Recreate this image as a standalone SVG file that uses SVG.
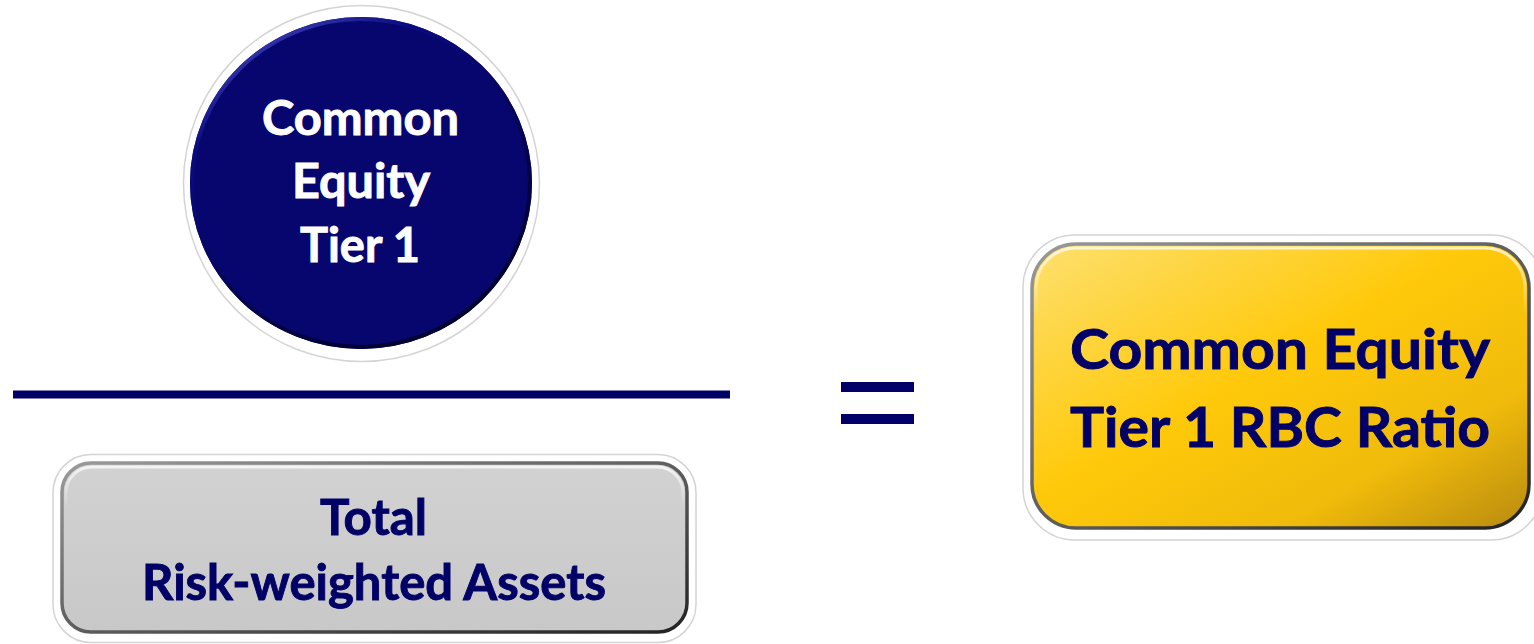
<svg xmlns="http://www.w3.org/2000/svg" width="1534" height="644" viewBox="0 0 1534 644">
  <style>
    .lbl { font-family: Lato, "Open Sans", "Liberation Sans", sans-serif; font-weight: 700; text-anchor: middle; stroke-width: 0.9; }
    .navy { fill: #000066; stroke: #000066; }
    .white { fill: #ffffff; stroke: #ffffff; }
    .rim { fill: #ffffff; stroke: #d4d4d4; stroke-width: 1.5; }
    .edge { fill: none; stroke: url(#edgeGrad); stroke-width: 3.5; }
    .hl { fill: none; stroke: url(#hlGrad); stroke-width: 3; }
    .bar { fill: #000066; }
  </style>
  <defs>
    <linearGradient id="edgeGrad" x1="0" y1="0" x2="1" y2="1">
      <stop offset="0" stop-color="#9a9a9a"/>
      <stop offset="0.5" stop-color="#5e5e5e"/>
      <stop offset="1" stop-color="#222222"/>
    </linearGradient>
    <linearGradient id="hlGrad" x1="0" y1="0" x2="0" y2="1">
      <stop offset="0" stop-color="#ffffff" stop-opacity="0.75"/>
      <stop offset="0.25" stop-color="#ffffff" stop-opacity="0"/>
      <stop offset="1" stop-color="#ffffff" stop-opacity="0"/>
    </linearGradient>
    <linearGradient id="yellowGrad" x1="0" y1="0" x2="1" y2="1">
      <stop offset="0" stop-color="#fde070"/>
      <stop offset="0.45" stop-color="#ffc90a"/>
      <stop offset="0.75" stop-color="#f0bb0a"/>
      <stop offset="1" stop-color="#b88a10"/>
    </linearGradient>
    <linearGradient id="greyGrad" x1="0" y1="0" x2="0" y2="1">
      <stop offset="0" stop-color="#d2d2d2"/>
      <stop offset="1" stop-color="#c8c8c8"/>
    </linearGradient>
    <linearGradient id="circEdge" x1="0" y1="0" x2="0.6" y2="1">
      <stop offset="0" stop-color="#5a5ad0"/>
      <stop offset="0.3" stop-color="#0a0a80"/>
      <stop offset="1" stop-color="#000030"/>
    </linearGradient>
  </defs>

  <g id="cet1">
    <ellipse class="rim" cx="361.5" cy="183.5" rx="178" ry="178"/>
    <ellipse cx="361" cy="183" rx="171" ry="166" fill="#06066e"/>
    <ellipse cx="361" cy="183" rx="169" ry="164" fill="none" stroke="url(#circEdge)" stroke-width="4"/>
    <text class="lbl white" x="360.5" y="135" font-size="47" textLength="197" lengthAdjust="spacingAndGlyphs">Common</text>
    <text class="lbl white" x="361" y="198" font-size="47" textLength="138" lengthAdjust="spacingAndGlyphs">Equity</text>
    <text class="lbl white" x="360" y="262" font-size="47" textLength="120" lengthAdjust="spacingAndGlyphs">Tier 1</text>
  </g>

  <g id="connectors">
    <rect id="fraction-line" class="bar" x="13" y="390.5" width="717" height="8"/>
    <rect id="equals-top" class="bar" x="841" y="382" width="73" height="10"/>
    <rect id="equals-bottom" class="bar" x="841" y="414" width="73" height="10"/>
  </g>

  <g id="rwa">
    <rect class="rim" x="53" y="454.5" width="643" height="188" rx="38"/>
    <rect x="61" y="462" width="627" height="171" rx="30" fill="url(#greyGrad)"/>
    <rect class="edge" x="62" y="463" width="625" height="169" rx="29"/>
    <rect class="hl" x="66" y="467" width="617" height="161" rx="26"/>
    <text class="lbl navy" x="373.5" y="535" font-size="49" textLength="107" lengthAdjust="spacingAndGlyphs">Total</text>
    <text class="lbl navy" x="374" y="600" font-size="49" textLength="464" lengthAdjust="spacingAndGlyphs">Risk-weighted Assets</text>
  </g>

  <g id="ratio">
    <rect class="rim" x="1023" y="235" width="520" height="305" rx="52"/>
    <rect x="1031" y="243" width="499" height="286" rx="45" fill="url(#yellowGrad)"/>
    <rect class="edge" x="1032" y="244" width="497" height="284" rx="44"/>
    <rect class="hl" x="1036" y="248" width="489" height="276" rx="40"/>
    <text class="lbl navy" x="1280" y="369" font-size="56" textLength="420" lengthAdjust="spacingAndGlyphs">Common Equity</text>
    <text class="lbl navy" x="1280" y="447" font-size="56" textLength="420" lengthAdjust="spacingAndGlyphs">Tier 1 RBC Ratio</text>
  </g>
</svg>
